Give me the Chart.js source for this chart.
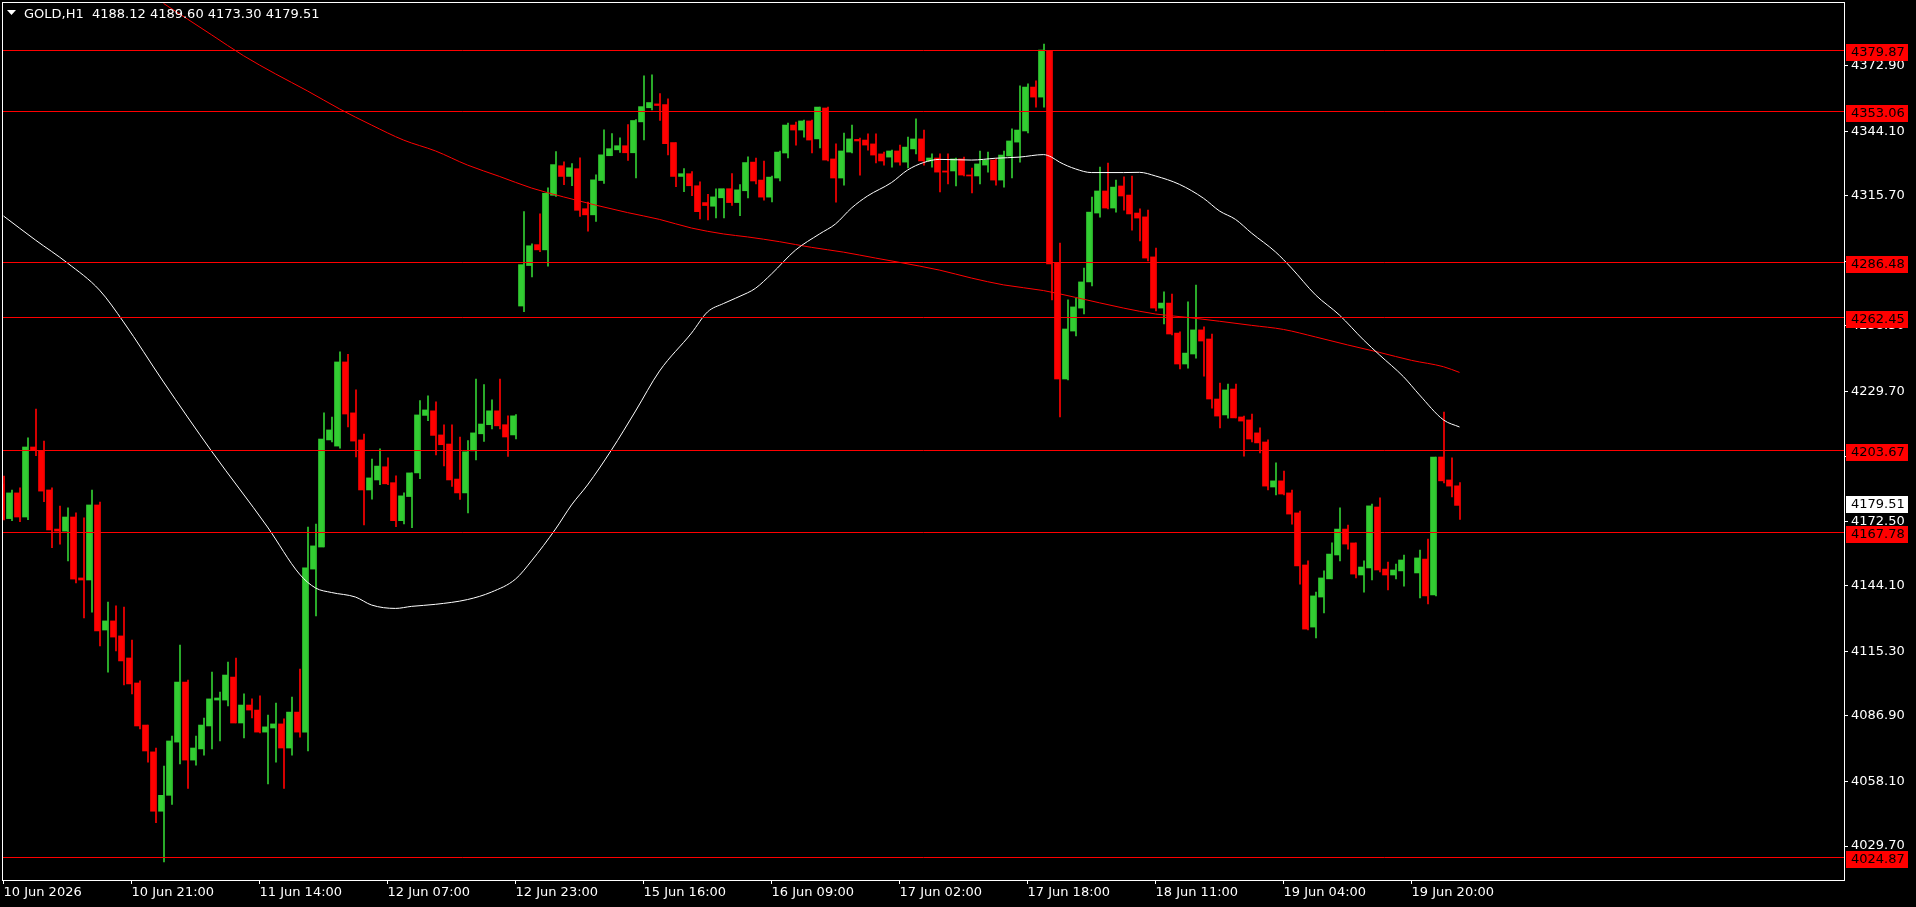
<!DOCTYPE html>
<html><head><meta charset="utf-8">
<script src="https://cdn.jsdelivr.net/npm/chart.js@4.4.1/dist/chart.umd.min.js"></script>
<style>html,body{margin:0;padding:0;background:#000;overflow:hidden}#wrap{position:absolute;left:0;top:0;width:1916px;height:907px}</style>
</head><body><div id="wrap"><canvas id="c" width="1916" height="907"></canvas></div>
<script>
const symbolName = 'GOLD,H1';
const opens = [4188.9,4173.7,4185.0,4174.4,4205.2,4203.6,4186.3,4169.1,4168.2,4174.4,4147.6,4146.7,4179.7,4124.7,4128.7,4122.1,4112.4,4101.4,4082.9,4071.1,4045.0,4052.0,4075.4,4101.8,4067.5,4072.4,4082.5,4093.9,4093.9,4104.0,4083.8,4091.7,4089.5,4079.8,4081.6,4083.4,4072.8,4088.6,4079.8,4151.5,4161.2,4208.3,4205.6,4242.6,4220.2,4208.3,4186.3,4190.7,4196.5,4189.5,4172.8,4183.4,4193.8,4219.1,4221.1,4210.5,4206.5,4191.1,4185.0,4203.5,4211.0,4215.0,4221.1,4215.0,4210.5,4267.2,4285.0,4294.2,4291.9,4315.9,4328.9,4324.2,4327.6,4310.0,4307.3,4322.4,4333.3,4335.9,4337.7,4334.6,4348.2,4354.4,4356.1,4355.8,4339.1,4324.2,4325.4,4320.1,4312.7,4311.1,4314.8,4318.8,4312.7,4317.9,4330.5,4322.6,4315.1,4323.5,4334.5,4346.8,4344.6,4348.6,4340.7,4354.3,4331.9,4323.5,4334.9,4340.5,4340.2,4338.5,4334.1,4332.7,4335.4,4330.5,4336.3,4340.7,4331.0,4332.3,4326.6,4326.6,4331.9,4324.8,4324.4,4329.2,4331.4,4322.6,4333.2,4339.3,4344.2,4363.5,4359.1,4379.4,4286.1,4235.1,4256.2,4266.3,4277.8,4308.1,4317.8,4310.3,4320.0,4316.0,4308.1,4306.4,4288.8,4266.3,4268.5,4255.3,4241.7,4246.1,4256.7,4252.7,4226.3,4219.3,4230.7,4218.4,4217.1,4211.4,4207.4,4187.6,4190.3,4185.0,4176.2,4153.3,4126.0,4139.2,4147.2,4157.7,4169.1,4163.0,4148.9,4152.0,4178.8,4151.5,4148.9,4150.7,null,4149.8,4155.9,4140.1,4200.8,4190.7,4188.12];
const highs = [4192.4,4186.3,4187.2,4209.2,4221.9,4207.8,4187.2,4179.2,4178.4,4176.2,4174.0,4186.3,4181.0,4137.0,4135.3,4134.8,4120.3,4102.3,4082.9,4072.8,4064.9,4078.1,4118.1,4102.7,4078.1,4086.0,4106.2,4097.4,4110.6,4112.4,4096.6,4094.4,4095.7,4087.3,4092.6,4085.6,4095.2,4107.5,4170.0,4171.3,4220.2,4218.4,4247.0,4246.0,4230.3,4210.9,4199.9,4204.4,4200.4,4192.5,4185.0,4193.8,4225.6,4227.7,4225.1,4215.0,4215.0,4209.6,4208.0,4235.1,4232.6,4225.9,4235.1,4218.9,4219.5,4308.7,4294.6,4307.8,4319.2,4335.1,4330.6,4329.8,4332.4,4312.9,4324.9,4344.7,4343.0,4341.2,4347.0,4349.2,4368.5,4368.9,4360.6,4358.3,4339.1,4327.6,4326.3,4321.8,4316.3,4318.8,4318.8,4325.4,4320.6,4332.8,4332.3,4331.0,4324.4,4335.4,4347.7,4348.1,4349.0,4349.0,4354.7,4354.7,4338.5,4343.3,4346.8,4341.1,4342.9,4342.9,4334.9,4335.8,4338.0,4341.5,4349.5,4344.6,4334.1,4334.1,4334.1,4332.3,4332.7,4327.9,4335.4,4334.9,4331.9,4335.4,4345.1,4364.0,4364.9,4366.2,4382.4,4379.4,4294.9,4269.9,4270.7,4283.9,4315.1,4328.3,4330.1,4322.6,4324.0,4324.4,4309.9,4309.4,4292.7,4273.4,4272.5,4255.8,4269.0,4276.4,4258.0,4254.9,4233.3,4232.9,4232.9,4218.8,4219.7,4213.6,4208.3,4198.2,4194.6,4186.3,4177.0,4155.1,4141.4,4150.7,4163.0,4178.4,4170.9,4163.0,4155.1,4180.1,4182.8,4154.6,4153.7,4157.7,null,4159.9,4164.7,4200.8,4220.6,4200.4,4189.60];
const lows = [4173.1,4172.8,4172.4,4173.2,4201.4,4181.1,4160.9,4162.5,4155.1,4145.4,4130.0,4132.6,4117.7,4106.2,4115.5,4100.5,4096.6,4081.2,4066.6,4040.0,4022.7,4048.0,4065.8,4055.0,4065.3,4069.7,4072.4,4075.9,4091.3,4083.8,4077.2,4086.0,4079.4,4057.0,4066.6,4055.0,4069.7,4077.6,4071.5,4130.9,4161.2,4207.4,4204.7,4214.0,4200.8,4170.9,4182.3,4188.6,4188.6,4170.1,4171.4,4169.7,4191.3,4216.8,4201.7,4196.9,4187.9,4182.1,4176.2,4199.5,4207.6,4213.2,4213.2,4201.0,4208.7,4264.7,4280.0,4291.1,4284.7,4315.4,4320.6,4320.1,4306.6,4300.1,4304.4,4321.1,4333.3,4334.8,4331.2,4323.6,4340.3,4353.5,4348.8,4333.7,4319.7,4317.5,4315.7,4305.5,4305.1,4306.0,4306.0,4311.4,4306.9,4314.8,4320.9,4313.8,4313.0,4322.2,4332.3,4338.0,4341.5,4334.5,4336.7,4331.0,4312.9,4320.4,4334.5,4324.8,4335.8,4330.1,4329.2,4328.3,4329.2,4327.9,4334.1,4329.2,4328.3,4317.4,4320.9,4320.0,4324.4,4316.9,4320.9,4326.1,4320.4,4319.5,4323.5,4330.5,4343.3,4354.7,4354.7,4269.9,4218.4,4234.7,4254.0,4263.7,4276.0,4306.3,4309.9,4308.5,4309.4,4300.6,4295.8,4287.0,4265.0,4259.3,4254.5,4239.5,4239.9,4244.3,4236.4,4222.3,4213.6,4217.9,4218.0,4201.2,4207.4,4202.6,4186.3,4184.1,4184.1,4171.3,4144.9,4124.7,4121.2,4132.2,4147.2,4155.1,4160.3,4147.6,4141.4,4146.7,4150.2,4142.3,4147.2,4144.0,null,4138.8,4136.2,4139.7,4189.4,4183.2,4173.30];
const closes = [4173.5,4185.0,4174.4,4205.2,4203.9,4185.8,4168.7,4168.2,4174.4,4147.1,4146.7,4179.7,4124.3,4128.7,4121.6,4111.1,4101.0,4082.5,4071.5,4045.0,4052.0,4075.9,4101.8,4067.5,4072.8,4082.9,4094.4,4094.8,4104.9,4083.8,4091.7,4089.5,4079.8,4082.1,4083.4,4072.8,4088.6,4079.8,4152.0,4161.7,4208.7,4212.7,4242.6,4219.7,4207.8,4186.3,4191.6,4196.8,4189.0,4172.8,4183.7,4193.8,4219.3,4221.5,4210.3,4206.2,4190.7,4185.0,4203.1,4211.4,4215.3,4221.1,4214.5,4209.6,4218.9,4285.4,4293.7,4291.9,4316.8,4329.4,4324.2,4328.0,4309.3,4307.3,4322.7,4333.7,4336.4,4337.7,4334.6,4348.8,4354.9,4356.7,4355.4,4338.6,4324.2,4325.4,4320.1,4308.7,4311.4,4315.2,4318.8,4312.7,4318.3,4330.3,4322.2,4315.1,4323.9,4334.9,4346.8,4344.6,4348.6,4340.2,4354.7,4331.4,4323.5,4335.4,4340.7,4339.8,4338.0,4333.6,4331.0,4335.4,4330.5,4337.1,4340.7,4331.0,4332.3,4326.1,4326.1,4331.9,4324.8,4324.4,4329.7,4331.4,4322.6,4333.6,4339.8,4344.6,4363.5,4359.1,4379.8,4285.7,4235.1,4257.1,4266.8,4277.8,4308.5,4317.8,4310.3,4319.5,4315.6,4307.7,4305.9,4288.3,4266.3,4268.5,4254.9,4241.7,4246.5,4256.7,4251.8,4226.3,4218.8,4230.3,4218.0,4216.6,4208.7,4207.0,4188.0,4190.3,4184.5,4175.7,4152.9,4125.1,4139.7,4147.6,4158.1,4169.1,4162.5,4149.3,4152.4,4179.3,4151.1,4148.9,4151.1,4155.5,null,4156.4,4139.7,4200.8,4190.3,4188.0,4179.51];
const tickBars = [0,16,32,48,64,80,96,112,128,144,160,176];
const tickLabels = ['10 Jun 2026','10 Jun 21:00','11 Jun 14:00','12 Jun 07:00','12 Jun 23:00','15 Jun 16:00','16 Jun 09:00','17 Jun 02:00','17 Jun 18:00','18 Jun 11:00','19 Jun 04:00','19 Jun 20:00'];
const priceTicks = [4372.90,4344.10,4315.70,4286.90,4258.50,4229.70,4201.10,4172.50,4144.10,4115.30,4086.90,4058.10,4029.70];
const levels = [4379.87,4353.06,4286.48,4262.45,4203.67,4167.78,4024.87];
const maFastBars = [0,4,8,12,15,20,26,33,37,39,41,44,46,49,51,54,58,61,64,66,69,71,73,76,79,82,86,88,90,93,94,96,99,102,104,106,108,111,113,115,117,121,124,127,130,131,132,134,136,140,142,144,147,150,152,154,156,159,161,164,167,170,172,175,177,180,182];
const maFastVals = [4306.8,4296.2,4286.1,4274.2,4260.2,4233.8,4203.4,4170.0,4149.3,4143.2,4141.2,4139.2,4135.7,4134.2,4135.1,4136.0,4138.1,4141.4,4147.1,4155.1,4169.1,4179.7,4188.5,4203.9,4221.0,4238.6,4255.3,4264.6,4268.3,4273.0,4275.0,4281.3,4291.8,4298.9,4303.3,4310.3,4315.6,4321.5,4327.0,4330.3,4331.7,4331.4,4332.2,4332.7,4333.8,4332.7,4330.5,4327.5,4325.9,4325.9,4326.0,4324.4,4320.7,4314.6,4309.0,4305.3,4299.3,4291.0,4283.9,4272.1,4263.2,4252.3,4245.7,4236.1,4228.1,4217.1,4214.0];
const maSlowBars = [20,23,26,30,34,38,42,46,50,54,58,62,66,70,74,78,82,86,90,93,97,101,105,109,112,117,121,125,130,134,140,144,148,152,156,160,164,168,172,176,180,182];
const maSlowVals = [4400.3,4393.4,4386.5,4377.3,4369.3,4361.8,4353.9,4346.8,4340.2,4335.4,4329.2,4324.2,4319.1,4315.2,4311.6,4308.3,4305.3,4301.5,4298.9,4297.6,4295.5,4293.0,4290.9,4288.3,4286.4,4283.0,4279.5,4276.5,4274.0,4271.0,4266.3,4263.7,4262.2,4260.5,4258.7,4256.9,4253.6,4250.1,4246.8,4243.3,4240.5,4238.0];

const GREEN = '#32cd32', RED = '#ff0000';
const FONT = 'DejaVu Sans';
const X_MIN = -0.1875, X_MAX = 230.1875, Y_MIN = 4014.75, Y_MAX = 4400.92;

const idx = opens.map((o, i) => i).filter(i => opens[i] !== null);
const bodyData = idx.map(i => ({x: i, y: [opens[i], closes[i]]}));
const wickData = idx.map(i => ({x: i, y: [lows[i], highs[i]]}));
const candleColor = ctx => { const i = ctx.raw ? ctx.raw.x : 0; return closes[i] >= opens[i] ? GREEN : RED; };

const decor = {
  id: 'decor',
  beforeDraw(chart) {
    const c = chart.ctx; c.save(); c.fillStyle = '#000'; c.fillRect(0, 0, chart.width, chart.height); c.restore();
  },
  afterDatasetsDraw(chart) {
    const c = chart.ctx, a = chart.chartArea, ys = chart.scales.y;
    c.save(); c.beginPath(); c.rect(a.left, a.top, a.right - a.left, a.bottom - a.top); c.clip();
    c.strokeStyle = RED; c.lineWidth = 1;
    levels.forEach(p => { const y = Math.round(ys.getPixelForValue(p)) + 0.5; c.beginPath(); c.moveTo(a.left, y); c.lineTo(a.right, y); c.stroke(); });
    c.restore();
  },
  afterDraw(chart) {
    const c = chart.ctx, a = chart.chartArea, ys = chart.scales.y;
    c.save();
    c.strokeStyle = '#fff'; c.lineWidth = 1;
    c.strokeRect(a.left + 0.5, a.top + 0.5, a.right - a.left - 1, a.bottom - a.top);
    c.font = '13px "' + FONT + '"'; c.textBaseline = 'middle'; c.textAlign = 'left';
    levels.forEach(p => {
      const y = Math.round(ys.getPixelForValue(p));
      c.fillStyle = RED; c.fillRect(a.right + 1, y - 6, 62, 17);
      c.fillStyle = '#000'; c.fillText(p.toFixed(2), a.right + 6, y + 2.5);
    });
    const last = closes[closes.length - 1];
    const yl = Math.round(ys.getPixelForValue(last));
    c.fillStyle = '#fff'; c.fillRect(a.right + 1, yl - 9, 62, 17);
    c.fillStyle = '#000'; c.fillText(last.toFixed(2), a.right + 6, yl - 0.5);
    c.fillStyle = '#fff';
    c.beginPath(); c.moveTo(7, 10); c.lineTo(16, 10); c.lineTo(11.5, 15); c.closePath(); c.fill();
    const n = opens.length - 1;
    c.fillText(symbolName + '  ' + [opens[n], highs[n], lows[n], closes[n]].map(v => v.toFixed(2)).join(' '), 24, 14.5);
    c.restore();
  }
};

new Chart(document.getElementById('c'), {
  data: {
    datasets: [
      {type: 'line', label: 'MA fast', xAxisID: 'x', data: maFastBars.map((b, k) => ({x: b, y: maFastVals[k]})), borderColor: '#ffffff', borderWidth: 1, pointRadius: 0, cubicInterpolationMode: 'monotone', order: 1},
      {type: 'line', label: 'MA slow', xAxisID: 'x', data: maSlowBars.map((b, k) => ({x: b, y: maSlowVals[k]})), borderColor: RED, borderWidth: 1, pointRadius: 0, cubicInterpolationMode: 'monotone', order: 2},
      {type: 'bar', label: 'body', xAxisID: 'x', data: bodyData, backgroundColor: candleColor, borderWidth: 0, barThickness: 5, minBarLength: 1, order: 3, clip: 0},
      {type: 'bar', label: 'wick', xAxisID: 'xw', data: wickData, backgroundColor: candleColor, borderWidth: 0, barThickness: 1, minBarLength: 1, order: 4, clip: 0}
    ]
  },
  options: {
    responsive: false, animation: false, devicePixelRatio: 1,
    layout: {padding: {left: 2, top: 2, right: 0, bottom: 0}},
    plugins: {legend: {display: false}, tooltip: {enabled: false}},
    scales: {
      x: {type: 'linear', min: X_MIN, max: X_MAX, position: 'bottom', offset: false,
        afterBuildTicks: s => { s.ticks = tickBars.map(v => ({value: v})); },
        afterFit: s => { s.height = 27; s.paddingLeft = 0; s.paddingRight = 0; },
        ticks: {color: '#fff', font: {size: 13, family: FONT}, align: 'start', padding: 1, maxRotation: 0, autoSkip: false,
          callback: v => { const k = tickBars.indexOf(v); return k >= 0 ? tickLabels[k] : ''; }},
        grid: {display: true, offset: false, drawOnChartArea: false, drawTicks: true, tickLength: 4, tickColor: '#fff', tickWidth: 1},
        border: {display: false}
      },
      xw: {type: 'linear', min: X_MIN, max: X_MAX, display: false, offset: false, grid: {offset: false},
        afterBuildTicks: s => { s.ticks = tickBars.map(v => ({value: v})); },
        afterFit: s => { s.paddingLeft = 0; s.paddingRight = 0; }},
      y: {type: 'linear', position: 'right', min: Y_MIN, max: Y_MAX, stacked: false,
        afterBuildTicks: s => { s.ticks = priceTicks.map(v => ({value: v})); },
        afterFit: s => { s.width = 71; s.paddingTop = 0; s.paddingBottom = 0; },
        ticks: {color: '#fff', font: {size: 13, family: FONT}, padding: 3, callback: v => Number(v).toFixed(2)},
        grid: {display: true, drawOnChartArea: false, drawTicks: true, tickLength: 3, tickColor: '#fff', tickWidth: 1},
        border: {display: false}
      }
    }
  },
  plugins: [decor]
});
</script></body></html>
